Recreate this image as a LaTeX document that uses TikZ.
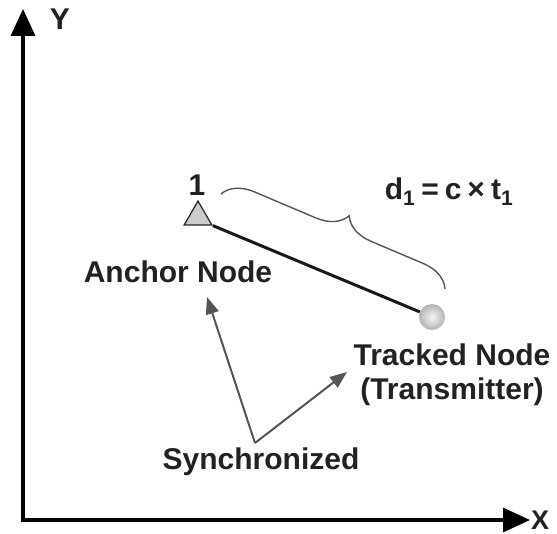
\documentclass[tikz,border=0pt]{standalone}
\usepackage{fontspec}
\setmainfont{Liberation Sans}
\usetikzlibrary{arrows.meta,shapes.geometric,decorations.pathreplacing}
\definecolor{txt}{HTML}{222222}
\definecolor{arr}{HTML}{555555}
\tikzset{
  lbl/.style={font=\fontsize{30}{34}\selectfont\bfseries, text=txt, inner sep=0pt},
  axis/.style={line width=3.5pt, -{Triangle[width=24pt,length=27pt]}},
  syncarrow/.style={line width=2pt, draw=arr, -{Triangle[width=13pt,length=17pt]}},
}
\begin{document}
\begin{tikzpicture}[x=1pt,y=-1pt]
\useasboundingbox (0,0) rectangle (557,534);
% axes
\coordinate (O) at (23,520);
\coordinate (Ytip) at (23,9);
\coordinate (Xtip) at (530,520);
\draw[axis] (O) -- (Ytip);
\draw[axis] ([xshift=-1.75pt]O) -- (Xtip);
\node[lbl] (ylab) at (60,19) {Y};
\node[lbl, font=\fontsize{27}{30}\selectfont\bfseries] (xlab) at (540,520) {X};
% anchor triangle
\node[regular polygon, regular polygon sides=3, minimum size=32pt, inner sep=0pt,
      draw=txt, line width=1.2pt, fill=gray!40] (tri) at (198,217) {};
\node[lbl] (one) at (197,185) {1};
% tracked node ball
\node[circle, minimum size=26pt, inner sep=0pt, shading=radial, inner color=gray!8, outer color=gray!60] (ball) at (432,317) {};
\draw[line width=3pt, black!90] (tri.corner 3) -- (ball);
% brace
\coordinate (b1) at (221,194);
\coordinate (b2) at (445,289);
\draw[arr, line width=1.4pt, decorate, decoration={brace, amplitude=30pt, aspect=0.52}] (b1) -- (b2);
\node[lbl] (dlab) at (449,192) {d\textsubscript{1}\hspace{0.2em}=\hspace{0.2em}c\hspace{0.2em}×\hspace{0.2em}t\textsubscript{1}};
% labels
\node[lbl] (anchor) at (178,272) {Anchor Node};
\node[lbl, align=center] (tracked) at (452,375) {Tracked Node\\(Transmitter)};
\node[lbl] (sync) at (261,462) {Synchronized};
% synchronized arrows
\coordinate (v) at (255,443);
\coordinate (ta) at (207,297);
\coordinate (tt) at (347,372);
\draw[syncarrow] (v) -- (ta);
\draw[syncarrow] (v) -- (tt);
\end{tikzpicture}
\end{document}
